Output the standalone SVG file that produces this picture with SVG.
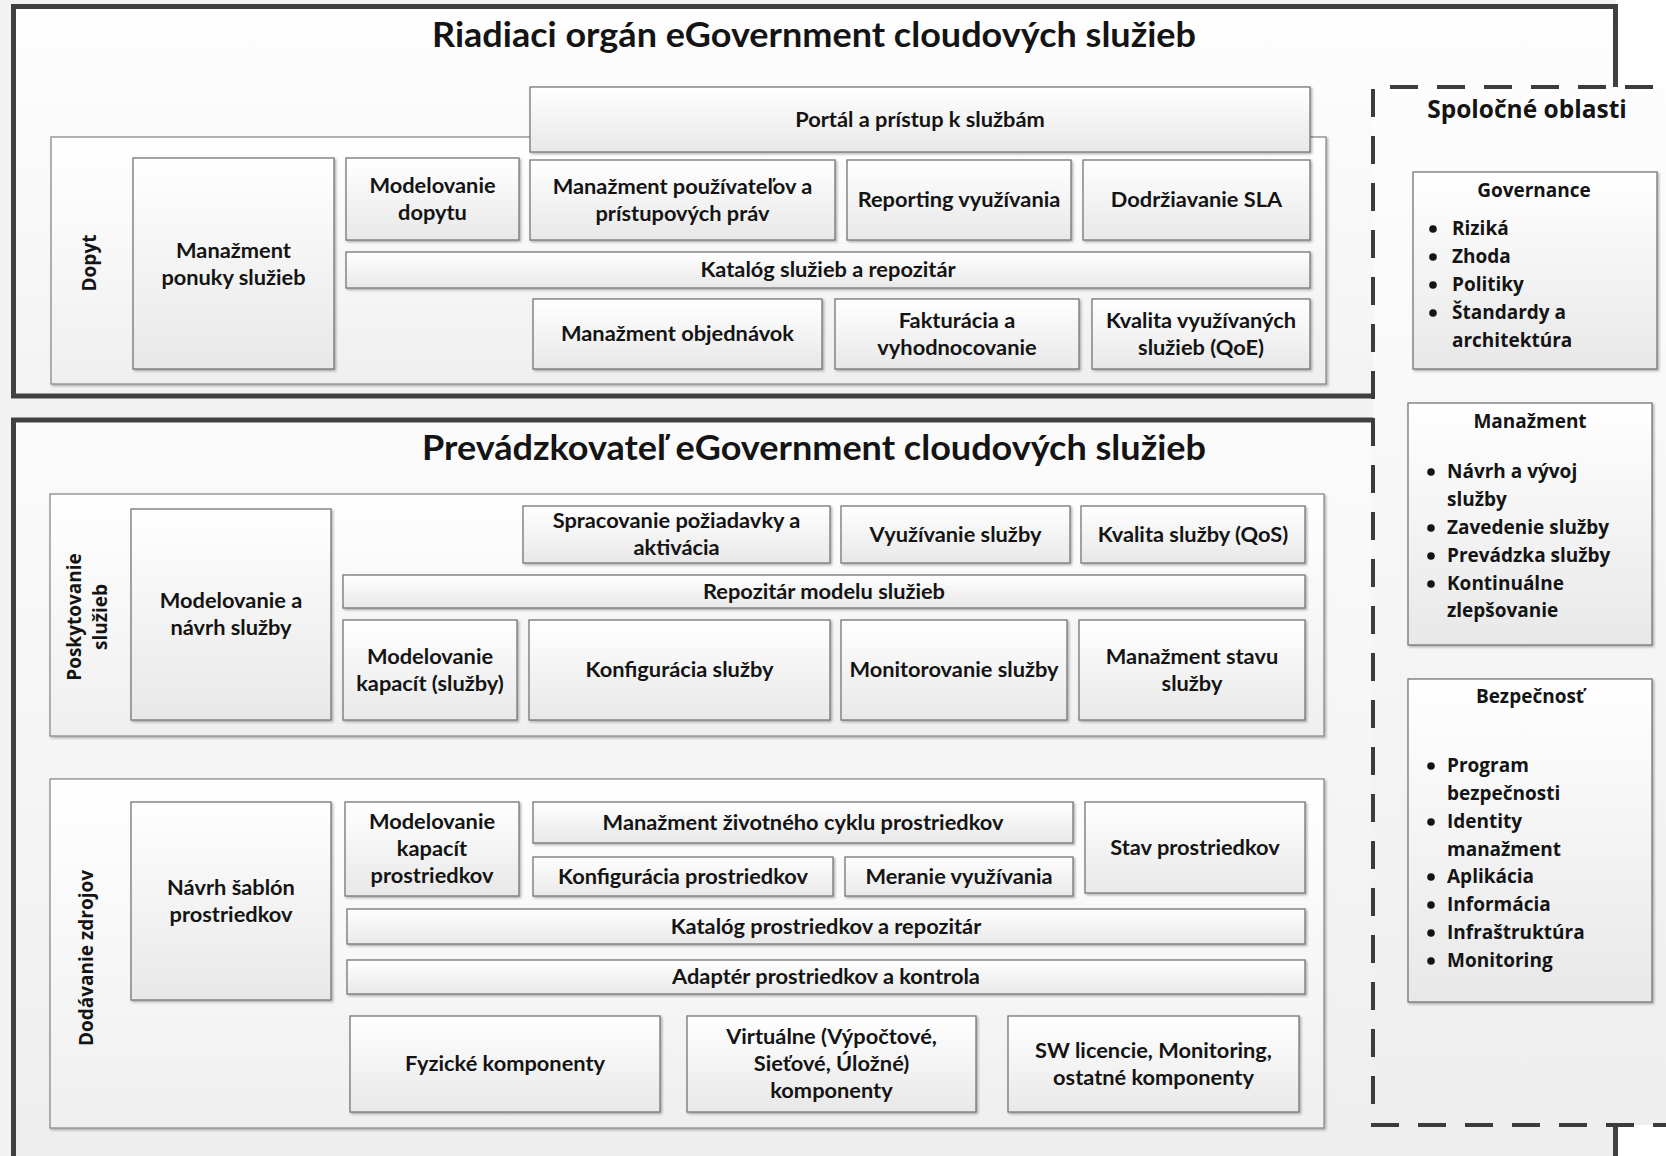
<svg xmlns="http://www.w3.org/2000/svg" width="1666" height="1156" viewBox="0 0 1666 1156">
<defs>
<linearGradient id="gBox" x1="0" y1="0" x2="0" y2="1"><stop offset="0" stop-color="#ffffff"/><stop offset="1" stop-color="#e8e8e8"/></linearGradient>
<linearGradient id="gCont" x1="0" y1="0" x2="0" y2="1"><stop offset="0" stop-color="#ffffff"/><stop offset="1" stop-color="#efefef"/></linearGradient>
<linearGradient id="gTop" x1="0" y1="0" x2="0" y2="1"><stop offset="0" stop-color="#fefefe"/><stop offset="1" stop-color="#f3f3f3"/></linearGradient>
<linearGradient id="gBot" x1="0" y1="0" x2="0" y2="1"><stop offset="0" stop-color="#fbfbfb"/><stop offset="1" stop-color="#eeeeee"/></linearGradient>
<linearGradient id="gSide" x1="0" y1="0" x2="0" y2="1"><stop offset="0" stop-color="#fdfdfd"/><stop offset="1" stop-color="#eeeeee"/></linearGradient>
<filter id="sh" x="-5%" y="-5%" width="115%" height="130%"><feDropShadow dx="1.5" dy="1.5" stdDeviation="1" flood-color="#000" flood-opacity="0.3"/></filter>
<style>
.n rect{fill:url(#gBox);stroke:#767676;stroke-width:1.3;filter:url(#sh)}
.c rect{fill:url(#gCont);stroke:#8a8a8a;stroke-width:1.3;filter:url(#sh)}
.s rect{fill:url(#gBox);stroke:#767676;stroke-width:1.3;filter:url(#sh)}
.s circle{fill:#141414}
text{fill:#141414}
.t{font-family:Lato,"Liberation Sans",sans-serif;font-weight:700;font-size:21.8px;text-anchor:middle}
.h{font-family:Lato,"Liberation Sans",sans-serif;font-weight:700;font-size:34px;text-anchor:middle}
.l{font-family:"Open Sans","DejaVu Sans",sans-serif;font-weight:700;font-size:19px;text-anchor:middle}
.r{font-family:"Open Sans","DejaVu Sans",sans-serif;font-weight:700;font-size:19px}
.rt{font-family:"Open Sans","DejaVu Sans",sans-serif;font-weight:700;font-size:19px;text-anchor:middle}
.sp{font-family:"Open Sans","DejaVu Sans",sans-serif;font-weight:700;font-size:24.5px;text-anchor:middle}
.frame{fill:none;stroke:#404040;stroke-width:5;stroke-linejoin:miter}
.dash{fill:none;stroke:#3c3c3c;stroke-width:4;stroke-dasharray:28 19}
</style>
</defs>

<rect x="0" y="0" width="1666" height="1156" fill="#f2f2f2"/>
<rect x="1616" y="0" width="50" height="88" fill="#ffffff"/>
<rect x="1616" y="1124" width="50" height="32" fill="#ffffff"/>

<g id="frames">
<rect x="13.5" y="6.5" width="1602" height="389.5" fill="url(#gTop)"/>
<rect x="13.5" y="420" width="1602" height="740" fill="url(#gBot)"/>
<rect x="1373" y="87" width="320" height="1038" fill="url(#gSide)"/>
<path class="frame" d="M1373,396 L13.5,396 L13.5,6.5 L1615.5,6.5 L1615.5,87"/>
<path class="frame" d="M1373,420 L13.5,420 L13.5,1160 M1615.5,1125 L1615.5,1160"/>
<path class="dash" d="M1700,87 L1373,87 L1373,1125 L1700,1125"/>
</g>

<g id="titles">
<text class="h" x="814" y="47" textLength="764" lengthAdjust="spacingAndGlyphs">Riadiaci orgán eGovernment cloudových služieb</text>
<text class="h" x="814" y="460" textLength="784" lengthAdjust="spacingAndGlyphs">Prevádzkovateľ eGovernment cloudových služieb</text>
<text class="sp" x="1527" y="118">Spoločné oblasti</text>
</g>

<g id="dopyt" class="c">
<rect x="51" y="137" width="1275" height="247"/>
<text class="l" transform="translate(96,263) rotate(-90)">Dopyt</text>
</g>
<g id="poskytovanie" class="c">
<rect x="50" y="494" width="1274" height="242"/>
<text class="l" transform="translate(81,617) rotate(-90)">Poskytovanie</text>
<text class="l" transform="translate(107,617) rotate(-90)">služieb</text>
</g>
<g id="dodavanie" class="c">
<rect x="50" y="779" width="1274" height="349"/>
<text class="l" transform="translate(93,958) rotate(-90)">Dodávanie zdrojov</text>
</g>

<g id="portal" class="n"><rect x="530" y="87" width="780" height="65"/><text class="t" x="920" y="126.5">Portál a prístup k službám</text></g>
<g id="ponuka" class="n"><rect x="133" y="158" width="201" height="211"/><text class="t" x="233.5" y="257.5">Manažment</text><text class="t" x="233.5" y="284.5">ponuky služieb</text></g>
<g id="modelovanie-dopytu" class="n"><rect x="346" y="158" width="173" height="82"/><text class="t" x="432.5" y="192.5">Modelovanie</text><text class="t" x="432.5" y="219.5">dopytu</text></g>
<g id="pouzivatelia" class="n"><rect x="530" y="160" width="305" height="80"/><text class="t" x="682.5" y="193.5">Manažment používateľov a</text><text class="t" x="682.5" y="220.5">prístupových práv</text></g>
<g id="reporting" class="n"><rect x="847" y="160" width="224" height="80"/><text class="t" x="959" y="207">Reporting využívania</text></g>
<g id="sla" class="n"><rect x="1083" y="160" width="227" height="80"/><text class="t" x="1196.5" y="207">Dodržiavanie SLA</text></g>
<g id="katalog-sluzieb" class="n"><rect x="346" y="252" width="964" height="36"/><text class="t" x="828" y="277">Katalóg služieb a repozitár</text></g>
<g id="objednavky" class="n"><rect x="533" y="299" width="289" height="70"/><text class="t" x="677.5" y="341">Manažment objednávok</text></g>
<g id="fakturacia" class="n"><rect x="835" y="299" width="244" height="70"/><text class="t" x="957" y="327.5">Fakturácia a</text><text class="t" x="957" y="354.5">vyhodnocovanie</text></g>
<g id="qoe" class="n"><rect x="1092" y="299" width="218" height="70"/><text class="t" x="1201" y="327.5">Kvalita využívaných</text><text class="t" x="1201" y="354.5">služieb (QoE)</text></g>

<g id="modelovanie-navrh" class="n"><rect x="131" y="509" width="200" height="211"/><text class="t" x="231" y="608">Modelovanie a</text><text class="t" x="231" y="635">návrh služby</text></g>
<g id="spracovanie" class="n"><rect x="523" y="506" width="307" height="57"/><text class="t" x="676.5" y="528">Spracovanie požiadavky a</text><text class="t" x="676.5" y="555">aktivácia</text></g>
<g id="vyuzivanie" class="n"><rect x="841" y="506" width="229" height="57"/><text class="t" x="955.5" y="541.5">Využívanie služby</text></g>
<g id="qos" class="n"><rect x="1081" y="506" width="224" height="57"/><text class="t" x="1193" y="541.5">Kvalita služby (QoS)</text></g>
<g id="repozitar" class="n"><rect x="343" y="575" width="962" height="33"/><text class="t" x="824" y="598.5">Repozitár modelu služieb</text></g>
<g id="kapacity-sluzby" class="n"><rect x="343" y="620" width="174" height="100"/><text class="t" x="430" y="663.5">Modelovanie</text><text class="t" x="430" y="690.5">kapacít (služby)</text></g>
<g id="konfiguracia-sluzby" class="n"><rect x="529" y="620" width="301" height="100"/><text class="t" x="679.5" y="677">Konfigurácia služby</text></g>
<g id="monitorovanie" class="n"><rect x="841" y="620" width="226" height="100"/><text class="t" x="954" y="677">Monitorovanie služby</text></g>
<g id="stav-sluzby" class="n"><rect x="1079" y="620" width="226" height="100"/><text class="t" x="1192" y="663.5">Manažment stavu</text><text class="t" x="1192" y="690.5">služby</text></g>

<g id="sablony" class="n"><rect x="131" y="802" width="200" height="198"/><text class="t" x="231" y="894.5">Návrh šablón</text><text class="t" x="231" y="921.5">prostriedkov</text></g>
<g id="kapacity-prostriedkov" class="n"><rect x="345" y="802" width="174" height="94"/><text class="t" x="432" y="829">Modelovanie</text><text class="t" x="432" y="856">kapacít</text><text class="t" x="432" y="883">prostriedkov</text></g>
<g id="zivotny-cyklus" class="n"><rect x="533" y="802" width="540" height="41"/><text class="t" x="803" y="829.5">Manažment životného cyklu prostriedkov</text></g>
<g id="konfiguracia-prostriedkov" class="n"><rect x="533" y="857" width="300" height="39"/><text class="t" x="683" y="883.5">Konfigurácia prostriedkov</text></g>
<g id="meranie" class="n"><rect x="845" y="857" width="228" height="39"/><text class="t" x="959" y="883.5">Meranie využívania</text></g>
<g id="stav-prostriedkov" class="n"><rect x="1085" y="802" width="220" height="91"/><text class="t" x="1195" y="854.5">Stav prostriedkov</text></g>
<g id="katalog-prostriedkov" class="n"><rect x="347" y="909" width="958" height="35"/><text class="t" x="826" y="933.5">Katalóg prostriedkov a repozitár</text></g>
<g id="adapter" class="n"><rect x="347" y="960" width="958" height="34"/><text class="t" x="826" y="984">Adaptér prostriedkov a kontrola</text></g>
<g id="fyzicke" class="n"><rect x="350" y="1016" width="310" height="96"/><text class="t" x="505" y="1071">Fyzické komponenty</text></g>
<g id="virtualne" class="n"><rect x="687" y="1016" width="289" height="96"/><text class="t" x="831.5" y="1044">Virtuálne (Výpočtové,</text><text class="t" x="831.5" y="1071">Sieťové, Úložné)</text><text class="t" x="831.5" y="1098">komponenty</text></g>
<g id="sw" class="n"><rect x="1008" y="1016" width="291" height="96"/><text class="t" x="1153.5" y="1057.5">SW licencie, Monitoring,</text><text class="t" x="1153.5" y="1084.5">ostatné komponenty</text></g>

<g id="governance" class="s"><rect x="1413" y="172" width="244" height="197"/>
<text class="rt" x="1534" y="197">Governance</text>
<circle cx="1433" cy="229" r="3.8"/><text class="r" x="1452" y="235">Riziká</text>
<circle cx="1433" cy="257" r="3.8"/><text class="r" x="1452" y="263">Zhoda</text>
<circle cx="1433" cy="285" r="3.8"/><text class="r" x="1452" y="291">Politiky</text>
<circle cx="1433" cy="313" r="3.8"/><text class="r" x="1452" y="319">Štandardy a</text>
<text class="r" x="1452" y="347">architektúra</text>
</g>
<g id="manazment" class="s"><rect x="1408" y="403" width="244" height="242"/>
<text class="rt" x="1530" y="428">Manažment</text>
<circle cx="1431" cy="472" r="3.8"/><text class="r" x="1447" y="478">Návrh a vývoj</text>
<text class="r" x="1447" y="506">služby</text>
<circle cx="1431" cy="528" r="3.8"/><text class="r" x="1447" y="534">Zavedenie služby</text>
<circle cx="1431" cy="556" r="3.8"/><text class="r" x="1447" y="562">Prevádzka služby</text>
<circle cx="1431" cy="584" r="3.8"/><text class="r" x="1447" y="590">Kontinuálne</text>
<text class="r" x="1447" y="617">zlepšovanie</text>
</g>
<g id="bezpecnost" class="s"><rect x="1408" y="679" width="244" height="323"/>
<text class="rt" x="1530" y="703">Bezpečnosť</text>
<circle cx="1431" cy="766" r="3.8"/><text class="r" x="1447" y="772">Program</text>
<text class="r" x="1447" y="800">bezpečnosti</text>
<circle cx="1431" cy="822" r="3.8"/><text class="r" x="1447" y="828">Identity</text>
<text class="r" x="1447" y="856">manažment</text>
<circle cx="1431" cy="877" r="3.8"/><text class="r" x="1447" y="883">Aplikácia</text>
<circle cx="1431" cy="905" r="3.8"/><text class="r" x="1447" y="911">Informácia</text>
<circle cx="1431" cy="933" r="3.8"/><text class="r" x="1447" y="939">Infraštruktúra</text>
<circle cx="1431" cy="961" r="3.8"/><text class="r" x="1447" y="967">Monitoring</text>
</g>

<g id="connectors"></g>
</svg>
